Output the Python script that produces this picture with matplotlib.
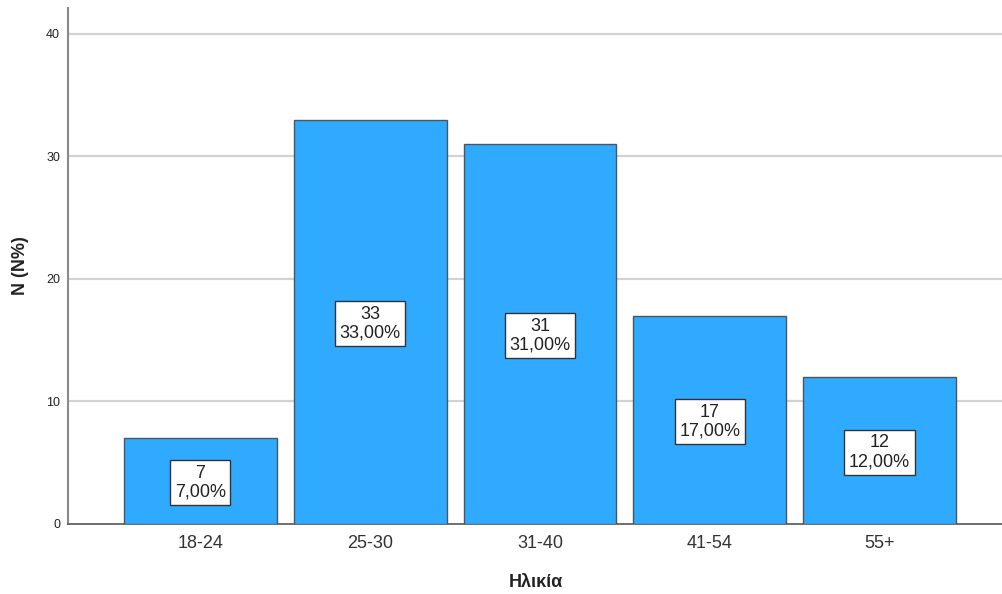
import matplotlib
matplotlib.use("Agg")
import matplotlib.pyplot as plt

categories = ["18-24", "25-30", "31-40", "41-54", "55+"]
counts = [7, 33, 31, 17, 12]
percents = [7.00, 33.00, 31.00, 17.00, 12.00]
y_ticks = [0, 10, 20, 30, 40]

plt.rcParams["font.family"] = ["Liberation Sans", "DejaVu Sans"]

W, H = 1003, 594
fig = plt.figure(figsize=(W / 100, H / 100), dpi=100)
ax = fig.add_axes([68.5 / W, (H - 524) / H, 1 - 68.5 / W, (524 - 8) / H])

x = list(range(len(categories)))
ax.bar(x, counts, width=0.90, color="#30AAFE", edgecolor="#4a5560",
       linewidth=1.0, zorder=3)

for xi, n, p in zip(x, counts, percents):
    label = f"{n}\n{p:.2f}%".replace(".", ",")
    ax.text(xi, n / 2 - 0.15, label, ha="center", va="center", fontsize=13,
            color="#222222", linespacing=1.15, zorder=4,
            bbox=dict(boxstyle="square,pad=0.25", facecolor="white",
                      edgecolor="#333333", linewidth=1.0))

ax.set_xlim(-0.777, 4.727)
ax.set_ylim(0, 42.1)
ax.set_yticks(y_ticks)
ax.set_xticks(x)
ax.set_xticklabels(categories, fontsize=13, color="#333333")
ax.tick_params(axis="y", length=0, pad=6, labelsize=9, labelcolor="#222222")
ax.tick_params(axis="x", length=0, pad=8)

for yv in y_ticks[1:]:
    ax.axhline(yv, color="#d2d2d2", linewidth=1.6, zorder=1)

for side in ("top", "right"):
    ax.spines[side].set_visible(False)
ax.spines["left"].set_color("#8a8a8a")
ax.spines["left"].set_linewidth(1.5)
ax.spines["bottom"].set_color("#555555")
ax.spines["bottom"].set_linewidth(1.2)

ax.set_xlabel("Ηλικία", fontsize=13, fontweight="bold", color="#222222",
              labelpad=16)
ax.set_ylabel("N (N%)", fontsize=13, fontweight="bold", color="#222222",
              labelpad=12)

fig.savefig("out.png", dpi=100)
